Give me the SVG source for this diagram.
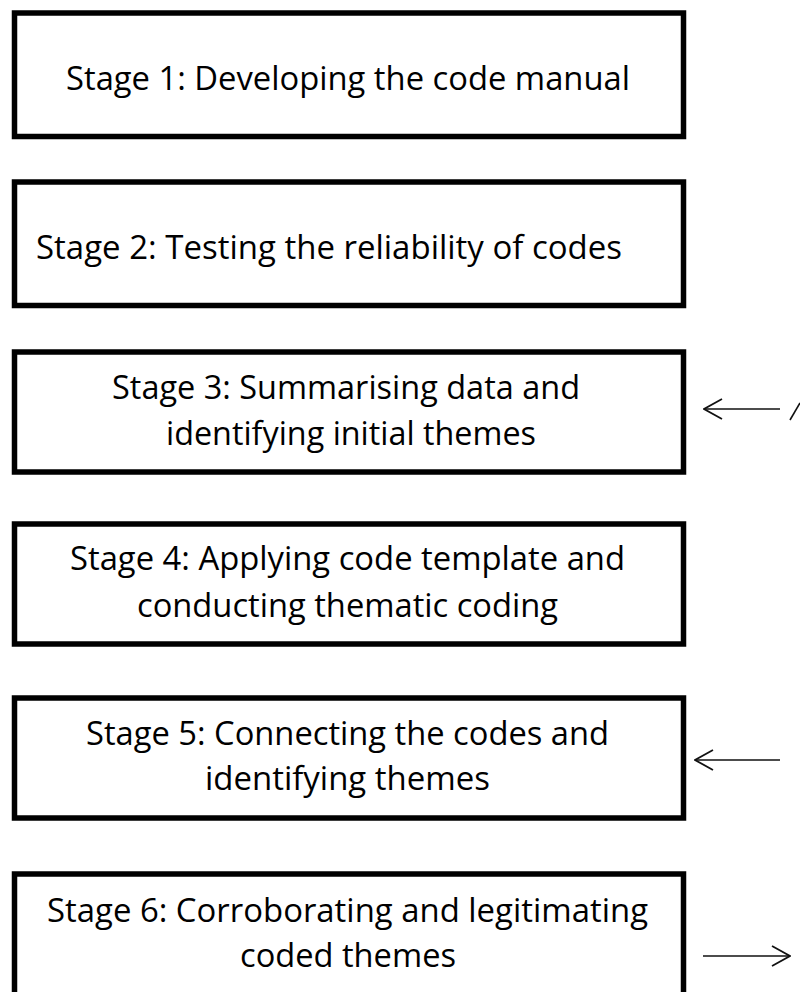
<svg xmlns="http://www.w3.org/2000/svg" width="800" height="992" viewBox="0 0 800 992">
  <style>
    .box { fill: #ffffff; stroke: #000000; stroke-width: 5.5; }
    .label { font-family: "Open Sans", "Liberation Sans", sans-serif; font-size: 33px; fill: #000000; }
    .conn { stroke: #111111; stroke-width: 1.6; fill: none; }
  </style>
  <defs>
    <!-- open chevron arrowhead, tip on the line end -->
    <marker id="chev" viewBox="0 0 20 22" refX="19" refY="11" markerWidth="20" markerHeight="22" markerUnits="userSpaceOnUse" orient="auto">
      <path d="M1,1 L19,11 L1,21" fill="none" stroke="#111111" stroke-width="1.8"/>
    </marker>
  </defs>
  <rect width="800" height="992" fill="#ffffff"/>

  <g id="stage1">
    <rect class="box" x="14.5" y="13" width="669" height="123.5"/>
    <text class="label" x="66" y="90" textLength="564" lengthAdjust="spacingAndGlyphs">Stage 1: Developing the code manual</text>
  </g>

  <g id="stage2">
    <rect class="box" x="14.5" y="182" width="669" height="123.5"/>
    <text class="label" x="36" y="259" textLength="586" lengthAdjust="spacingAndGlyphs">Stage 2: Testing the reliability of codes</text>
  </g>

  <g id="stage3">
    <rect class="box" x="14.5" y="352" width="669" height="120"/>
    <text class="label" x="112" y="399" textLength="468" lengthAdjust="spacingAndGlyphs">Stage 3: Summarising data and</text>
    <text class="label" x="166" y="445" textLength="370" lengthAdjust="spacingAndGlyphs">identifying initial themes</text>
  </g>

  <g id="stage4">
    <rect class="box" x="14.5" y="524" width="669" height="120"/>
    <text class="label" x="70" y="570" textLength="555" lengthAdjust="spacingAndGlyphs">Stage 4: Applying code template and</text>
    <text class="label" x="137" y="617" textLength="421" lengthAdjust="spacingAndGlyphs">conducting thematic coding</text>
  </g>

  <g id="stage5">
    <rect class="box" x="14.5" y="698" width="669" height="120"/>
    <text class="label" x="86" y="745" textLength="523" lengthAdjust="spacingAndGlyphs">Stage 5: Connecting the codes and</text>
    <text class="label" x="205" y="790" textLength="285" lengthAdjust="spacingAndGlyphs">identifying themes</text>
  </g>

  <g id="stage6">
    <rect class="box" x="14.5" y="874" width="669" height="140"/>
    <text class="label" x="47" y="922" textLength="601" lengthAdjust="spacingAndGlyphs">Stage 6: Corroborating and legitimating</text>
    <text class="label" x="240" y="967" textLength="216" lengthAdjust="spacingAndGlyphs">coded themes</text>
  </g>

  <g id="connectors">
    <line class="conn" x1="780" y1="409" x2="704" y2="409" marker-end="url(#chev)"/>
    <line class="conn" x1="790" y1="420" x2="800" y2="403"/>
    <line class="conn" x1="780" y1="760" x2="695" y2="760" marker-end="url(#chev)"/>
    <line class="conn" x1="703" y1="956" x2="790" y2="956" marker-end="url(#chev)"/>
  </g>
</svg>
